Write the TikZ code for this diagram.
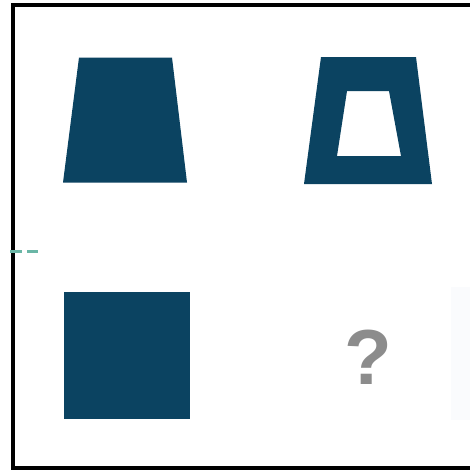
\documentclass[tikz,border=0pt]{standalone}
\usepackage{fontspec}
\setmainfont{Liberation Sans}
\definecolor{shapeblue}{HTML}{0B4361}
\definecolor{dashteal}{HTML}{6AB6A6}
\definecolor{qgray}{HTML}{8C8C8C}
\tikzset{
  solidshape/.style={fill=shapeblue, draw=none},
  frameline/.style={line width=4pt, black},
}
\begin{document}
\begin{tikzpicture}[x=1pt,y=-1pt]
\useasboundingbox[fill=white] (0,0) rectangle (470,472);
% faint strip at right
\fill[color={rgb,255:red,250;green,251;blue,253}] (451,287) rectangle (470,420);
% frame
\draw[frameline, line cap=rect] (470,5) -- (12.5,5) -- (12.5,468) -- (470,468);
% teal dash
\draw[dashteal, line width=3pt, dash pattern=on 12pt off 5pt] (10,251) -- (38,251);
% shape 1: solid trapezoid
\fill[solidshape] (79,57.5) -- (172,57.5) -- (187,182.5) -- (63,182.5) -- cycle;
% shape 2: hollow trapezoid
\fill[solidshape, even odd rule] (321,57) -- (416,57) -- (432,184) -- (304,184) -- cycle
  (347,91) -- (389,91) -- (401,156) -- (337,156) -- cycle;
% shape 3: square
\fill[solidshape] (64,292) rectangle (190,419);
% question mark
\node[text=qgray, font=\bfseries\fontsize{78}{78}\selectfont, inner sep=0pt] (q) at (368,357) {?};
\end{tikzpicture}
\end{document}
